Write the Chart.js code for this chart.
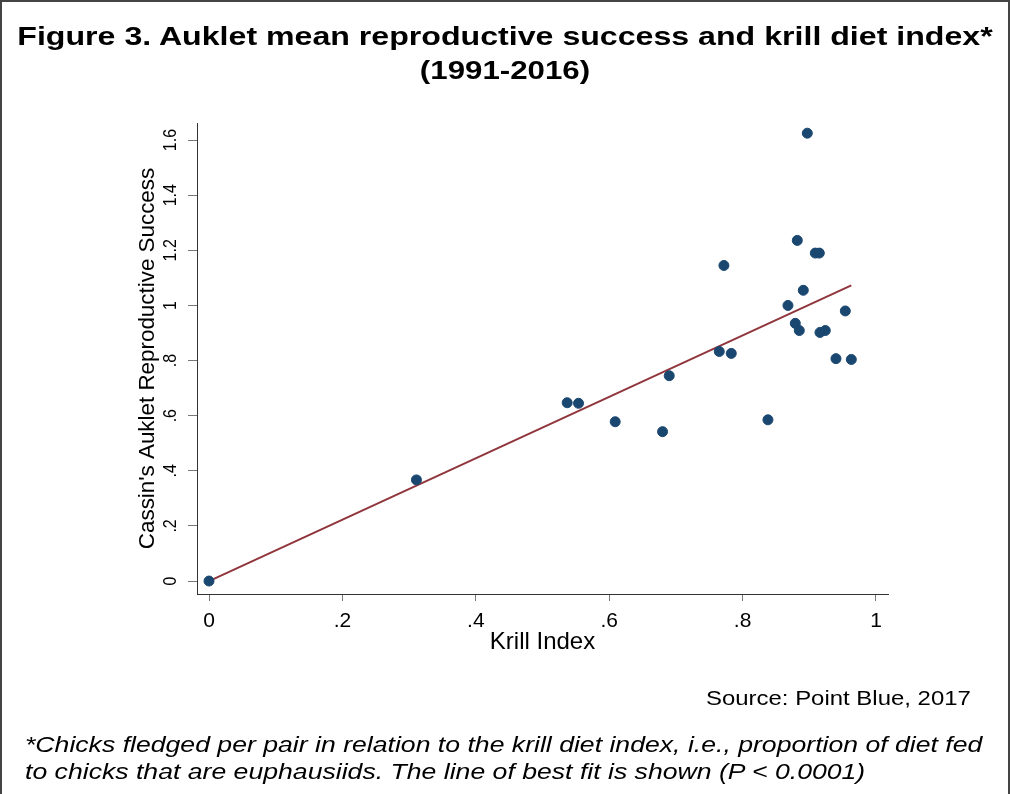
<!DOCTYPE html>
<html>
<head>
<meta charset="utf-8">
<script src="https://cdn.jsdelivr.net/npm/chart.js@4.4.1/dist/chart.umd.min.js"></script>
<style>
  html, body { margin: 0; padding: 0; background: #fff; }
  #frame { position: relative; width: 1010px; height: 794px; overflow: hidden;
           font-family: "Liberation Sans", Arial, sans-serif; color: #000; }
  #edge { position: absolute; left: 0; top: 0; width: 1010px; height: 800px; box-sizing: border-box;
          border: 2px solid #444; pointer-events: none; }
  #chart { position: absolute; left: 0; top: 0; }
  .t { position: absolute; white-space: nowrap; }
  .title { left: 0; width: 1010px; text-align: center; font-weight: bold; font-size: 25px; }
  .foot { left: 25px; font-size: 22px; font-style: italic; transform-origin: 0 0; transform: scaleX(1.21); }
</style>
</head>
<body>
<div id="frame">
  <canvas id="chart" width="1010" height="794"></canvas>
  <div class="t title" style="top:22px; transform:scaleX(1.285)">Figure 3. Auklet mean reproductive success and krill diet index*</div>
  <div class="t title" style="top:56px; transform:scaleX(1.25)">(1991-2016)</div>
  <div class="t" style="left:706px; top:686px; font-size:21px; transform-origin:0 0; transform:scaleX(1.14)">Source: Point Blue, 2017</div>
  <div class="t foot" style="top:732px">*Chicks fledged per pair in relation to the krill diet index, i.e., proportion of diet fed</div>
  <div class="t foot" style="top:759px">to chicks that are euphausiids. The line of best fit is shown (P &lt; 0.0001)</div>
  <div id="edge"></div>
</div>
<script>
// krill index (x) and chicks fledged per pair (y)
const krillIndex = [0, 0.311, 0.537, 0.554, 0.609, 0.680, 0.690, 0.765, 0.783, 0.772, 0.838, 0.868,
  0.882, 0.897, 0.909, 0.915, 0.891, 0.954, 0.879, 0.885, 0.916, 0.924, 0.940, 0.963];
const success = [0, 0.367, 0.647, 0.645, 0.578, 0.542, 0.745, 0.833, 0.826, 1.145, 0.585, 1.0,
  1.236, 1.625, 1.19, 1.19, 1.055, 0.98, 0.935, 0.909, 0.902, 0.909, 0.807, 0.804];
// ends of the line of best fit
const fitX = [0, 0.963];
const fitY = [0, 1.073];
const xTicks = [0, 0.2, 0.4, 0.6, 0.8, 1];
const yTicks = [0, 0.2, 0.4, 0.6, 0.8, 1, 1.2, 1.4, 1.6];

const fmt = v => v === 0 ? '0' : (Number.isInteger(v) ? String(v) : String(+v.toFixed(1)).replace(/^0/, ''));
const font = '"Liberation Sans", Arial, sans-serif';

// Stata-style y labels, turned to read bottom-up
const yLabels = {
  id: 'yLabels',
  afterDraw(chart) {
    const ctx = chart.ctx, y = chart.scales.y;
    ctx.save();
    ctx.fillStyle = '#000';
    ctx.font = '16px ' + font;
    ctx.textAlign = 'center';
    ctx.textBaseline = 'middle';
    yTicks.forEach(v => {
      ctx.save();
      ctx.translate(171, y.getPixelForValue(v));
      ctx.scale(1.15, 1);
      ctx.rotate(-Math.PI / 2);
      ctx.fillText(fmt(v), 0, 0);
      ctx.restore();
    });
    ctx.restore();
  }
};

new Chart(document.getElementById('chart'), {
  data: {
    datasets: [
      { type: 'line', data: fitX.map((x, i) => ({ x, y: fitY[i] })), borderColor: '#90353b', borderWidth: 2,
        pointRadius: 0, fill: false, order: 1 },
      { type: 'scatter', data: krillIndex.map((x, i) => ({ x, y: success[i] })), backgroundColor: '#1a476f',
        borderColor: '#1a476f', pointRadius: 5, order: 0 }
    ]
  },
  options: {
    responsive: false, animation: false,
    layout: { padding: { top: 123, right: 122, left: 0, bottom: 0 } },
    plugins: { legend: { display: false }, tooltip: { enabled: false } },
    scales: {
      x: {
        type: 'linear', min: -0.018, max: 1.018,
        afterBuildTicks: s => { s.ticks = xTicks.map(value => ({ value })); },
        afterFit: s => { s.height = 200; },
        grid: { drawOnChartArea: false, tickLength: 7, color: '#777' },
        border: { color: '#333', width: 1 },
        ticks: { color: '#000', padding: 8, font: { family: font, size: 21 }, callback: v => fmt(v) },
        title: { display: true, text: 'Krill Index', color: '#000', font: { family: font, size: 24 },
                 padding: { top: 0, bottom: 137 } }
      },
      y: {
        type: 'linear', min: -0.047, max: 1.662,
        afterBuildTicks: s => { s.ticks = yTicks.map(value => ({ value })); },
        afterFit: s => { s.width = 197; },
        grid: { drawOnChartArea: false, tickLength: 9, color: '#777' },
        border: { color: '#333', width: 1 },
        ticks: { display: false },
        title: { display: true, text: "Cassin's Auklet Reproductive Success", color: '#000',
                 font: { family: font, size: 22.4 }, padding: { top: 134, bottom: 0 } }
      }
    }
  },
  plugins: [yLabels]
});
</script>
</body>
</html>
